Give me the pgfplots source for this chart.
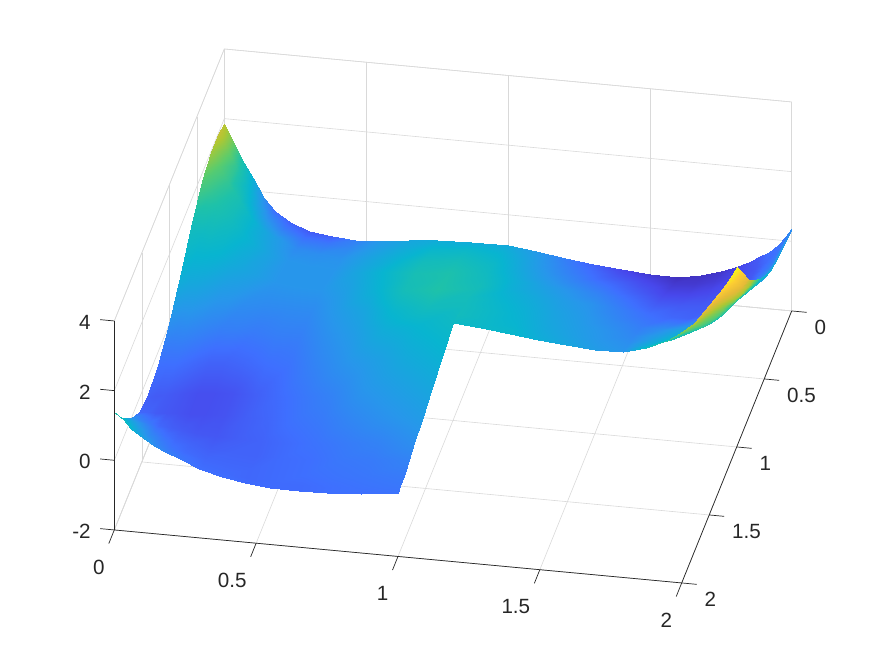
\documentclass[border=0pt]{standalone}
\usepackage{pgfplots}
\pgfplotsset{compat=1.18}
\usepackage{fontspec}
\setmainfont{Liberation Sans}
\begin{document}
\begin{tikzpicture}
\path[use as bounding box] (0,0) rectangle (437.5pt,328pt);
\begin{axis}[
  at={(112.15pt,233.85pt)}, anchor=origin,
  x={(141.85pt,13.25pt*-1)}, y={(27.5pt,68pt)}, z={(0pt,17.415pt)},
  y dir=reverse,
  xmin=0,xmax=2,ymin=0,ymax=2,zmin=-2,zmax=4,
  xtick={0,0.5,1,1.5,2}, ytick={0,0.5,1,1.5,2}, ztick={-2,0,2,4},
  tick pos=lower,
  grid=major, grid style={draw=black!15,line width=0.3pt},
  axis line style={draw=black!15,line width=0.3pt},
  tick style={draw=none},
  major tick length=7.5pt, tick align=outside,
  tick label style={font=\fontsize{10.3}{12}\selectfont,text=black!85},
  xticklabel style={anchor=north east,xshift=1.5pt,yshift=-4.4pt},
  yticklabel style={anchor=north west,xshift=0.5pt,yshift=-0.6pt},
  zticklabel style={anchor=east,xshift=-5.5pt,yshift=6.2pt},
  /pgf/number format/assume math mode=true,
  clip=false,
  colormap={parula}{rgb(0pt)=(.242,.150,.660); rgb(1pt)=(.280,.278,.922); rgb(2pt)=(.244,.436,.999); rgb(3pt)=(.154,.590,.922); rgb(4pt)=(.030,.708,.816); rgb(5pt)=(.120,.760,.660); rgb(6pt)=(.360,.800,.420); rgb(7pt)=(.680,.780,.200); rgb(8pt)=(.900,.730,.220); rgb(9pt)=(.990,.800,.200); rgb(10pt)=(.977,.984,.081)},
  point meta min=0, point meta max=1,
]
\addplot3[surf,shader=interp,point meta=explicit,mesh/ordering=y varies,mesh/rows=15,mesh/cols=15] table[x=x,y=y,z=z,meta=c] {
x y z c
0 0 1.84 .72
0 .1 2.0 .74
0 .25 2.03 .68
0 .4 1.78 .58
0 .6 1.22 .45
0 .8 .57 .38
0 1 0 .28
0 1.2 -.40 .2
0 1.4 -.52 .16
0 1.55 -.38 .18
0 1.7 .04 .3
0 1.8 .42 .38
0 1.9 .85 .45
0 1.96 1.18 .48
0 2 1.4 .5
.03 0 1.36 .62
.03 .1 1.53 .63
.03 .25 1.61 .59
.03 .4 1.44 .53
.03 .6 1.01 .43
.03 .8 .48 .36
.03 1 0 .27
.03 1.2 -.35 .2
.03 1.4 -.47 .15
.03 1.55 -.36 .17
.03 1.7 0 .26
.03 1.8 .33 .33
.03 1.9 .71 .39
.03 1.96 1.0 .43
.03 2 1.2 .45
.06 0 .92 .5
.06 .1 1.09 .53
.06 .25 1.21 .53
.06 .4 1.11 .49
.06 .6 .80 .42
.06 .8 .39 .35
.06 1 0 .27
.06 1.2 -.30 .2
.06 1.4 -.42 .15
.06 1.55 -.34 .15
.06 1.7 -.05 .23
.06 1.8 .23 .29
.06 1.9 .54 .34
.06 1.96 .79 .37
.06 2 .95 .4
.1 0 .37 .38
.1 .1 .56 .42
.1 .25 .73 .47
.1 .4 .72 .45
.1 .6 .56 .4
.1 .8 .29 .33
.1 1 0 .26
.1 1.2 -.25 .19
.1 1.4 -.36 .14
.1 1.55 -.31 .14
.1 1.7 -.09 .18
.1 1.8 .13 .23
.1 1.9 .38 .28
.1 1.96 .58 .31
.1 2 .72 .33
.14 0 -.17 .28
.14 .1 .03 .33
.14 .25 .26 .41
.14 .4 .35 .41
.14 .6 .33 .37
.14 .8 .19 .31
.14 1 0 .25
.14 1.2 -.20 .18
.14 1.4 -.31 .13
.14 1.55 -.29 .13
.14 1.7 -.13 .16
.14 1.8 .04 .2
.14 1.9 .25 .24
.14 1.96 .42 .26
.14 2 .53 .28
.18 0 -.52 .2
.18 .1 -.31 .27
.18 .25 -.05 .36
.18 .4 .09 .38
.18 .6 .17 .35
.18 .8 .12 .3
.18 1 0 .24
.18 1.2 -.16 .17
.18 1.4 -.27 .12
.18 1.55 -.28 .12
.18 1.7 -.16 .15
.18 1.8 -.03 .18
.18 1.9 .13 .21
.18 1.96 .28 .23
.18 2 .37 .25
.23 0 -.78 .17
.23 .1 -.57 .23
.23 .25 -.29 .32
.23 .4 -.11 .34
.23 .6 .04 .33
.23 .8 .07 .28
.23 1 0 .24
.23 1.2 -.13 .17
.23 1.4 -.24 .12
.23 1.55 -.26 .12
.23 1.7 -.20 .14
.23 1.8 -.11 .17
.23 1.9 .02 .19
.23 1.96 .13 .21
.23 2 .20 .22
.3 0 -1.0 .15
.3 .1 -.80 .21
.3 .25 -.52 .27
.3 .4 -.31 .3
.3 .6 -.10 .3
.3 .8 0 .27
.3 1 0 .23
.3 1.2 -.09 .18
.3 1.4 -.19 .13
.3 1.55 -.24 .13
.3 1.7 -.24 .14
.3 1.8 -.20 .16
.3 1.9 -.13 .18
.3 1.96 -.07 .19
.3 2 -.03 .2
.38 0 -1.09 .16
.38 .1 -.89 .22
.38 .25 -.62 .28
.38 .4 -.40 .3
.38 .6 -.16 .3
.38 .8 -.03 .27
.38 1 0 .24
.38 1.2 -.07 .2
.38 1.4 -.17 .16
.38 1.55 -.23 .16
.38 1.7 -.26 .16
.38 1.8 -.26 .17
.38 1.9 -.24 .18
.38 1.96 -.22 .19
.38 2 -.20 .2
.46 0 -1.13 .24
.46 .1 -.94 .26
.46 .25 -.67 .29
.46 .4 -.45 .3
.46 .6 -.2 .3
.46 .8 -.05 .27
.46 1 0 .24
.46 1.2 -.05 .21
.46 1.4 -.15 .19
.46 1.55 -.22 .18
.46 1.7 -.28 .17
.46 1.8 -.3 .17
.46 1.9 -.31 .18
.46 1.96 -.31 .18
.46 2 -.31 .19
.55 0 -1.09 .31
.55 .1 -.91 .32
.55 .25 -.64 .34
.55 .4 -.41 .35
.55 .6 -.15 .33
.55 .8 .02 .31
.55 1 .10 .28
.55 1.2 .03 .25
.55 1.4 -.08 .22
.55 1.55 -.16 .21
.55 1.7 -.25 .19
.55 1.8 -.3 .19
.55 1.9 -.34 .19
.55 1.96 -.36 .19
.55 2 -.38 .19
.65 0 -1.0 .35
.65 .1 -.86 .37
.65 .25 -.59 .39
.65 .4 -.36 .41
.65 .6 -.08 .39
.65 .8 .12 .35
.65 1 .24 .32
.65 1.2 .15 .29
.65 1.4 .02 .25
.65 1.55 -.08 .23
.65 1.7 -.19 .21
.65 1.8 -.26 .2
.65 1.9 -.33 .2
.65 1.96 -.38 .19
.65 2 -.40 .19
.75 0 -.92 .37
.75 .1 -.79 .41
.75 .25 -.53 .45
.75 .4 -.30 .47
.75 .6 0 .46
.75 .8 .24 .41
.75 1 .40 .37
.75 1.2 .27 .32
.75 1.4 .12 .29
.75 1.55 .01 .26
.75 1.7 -.11 .23
.75 1.8 -.2 .22
.75 1.9 -.3 .21
.75 1.96 -.36 .2
.75 2 -.38 .2
.87 0 -.87 .37
.87 .1 -.72 .42
.87 .25 -.46 .46
.87 .4 -.22 .49
.87 .6 .1 .5
.87 .8 .38 .45
.87 1 .61 .4
.87 1.2 .44 .36
.87 1.4 .27 .32
.87 1.55 .14 .29
.87 1.7 .01 .25
.87 1.8 -.08 .23
.87 1.9 -.19 .22
.87 1.96 -.26 .21
.87 2 -.31 .2
1 0 -.87 .36
1 .1 -.68 .39
1 .25 -.41 .42
1 .4 -.15 .44
1 .6 .2 .46
1 .8 .52 .45
1 1 .81 .43
1 1.2 .6 .39
1 1.4 .4 .35
1 1.55 .25 .32
1 1.7 .1 .28
1 1.8 0 .25
1 1.9 -.09 .23
1 1.96 -.14 .22
1 2 -.18 .21
};
\addplot3[surf,shader=interp,point meta=explicit,mesh/ordering=y varies,mesh/rows=10,mesh/cols=16] table[x=x,y=y,z=z,meta=c] {
x y z c
1 0 -.87 .36
1 .1 -.68 .39
1 .25 -.41 .42
1 .4 -.15 .44
1 .55 .11 .46
1 .7 .37 .45
1 .8 .52 .45
1 .9 .67 .45
1 .96 .75 .44
1 1 .81 .43
1.1 0 -.95 .31
1.1 .1 -.78 .33
1.1 .25 -.51 .35
1.1 .4 -.24 .38
1.1 .55 .03 .39
1.1 .7 .28 .41
1.1 .8 .44 .42
1.1 .9 .58 .42
1.1 .96 .67 .42
1.1 1 .72 .42
1.2 0 -1.08 .24
1.2 .1 -.89 .26
1.2 .25 -.61 .29
1.2 .4 -.33 .33
1.2 .55 -.05 .36
1.2 .7 .2 .38
1.2 .8 .36 .39
1.2 .9 .5 .4
1.2 .96 .59 .41
1.2 1 .63 .41
1.3 0 -1.18 .17
1.3 .1 -.98 .2
1.3 .25 -.68 .24
1.3 .4 -.36 .29
1.3 .55 -.08 .32
1.3 .7 .16 .34
1.3 .8 .31 .35
1.3 .9 .44 .36
1.3 .96 .51 .37
1.3 1 .54 .38
1.4 0 -1.26 .1
1.4 .1 -1.06 .14
1.4 .25 -.74 .2
1.4 .4 -.40 .25
1.4 .55 -.1 .29
1.4 .7 .12 .31
1.4 .8 .26 .32
1.4 .9 .38 .33
1.4 .96 .44 .34
1.4 1 .46 .35
1.5 0 -1.31 .06
1.5 .1 -1.11 .1
1.5 .25 -.80 .15
1.5 .4 -.48 .2
1.5 .55 -.18 .24
1.5 .7 .05 .27
1.5 .8 .19 .29
1.5 .9 .33 .3
1.5 .96 .39 .31
1.5 1 .40 .32
1.6 0 -1.32 .03
1.6 .1 -1.14 .06
1.6 .25 -.85 .1
1.6 .4 -.55 .15
1.6 .55 -.25 .2
1.6 .7 -.02 .24
1.6 .8 .13 .26
1.6 .9 .28 .28
1.6 .96 .37 .29
1.6 1 .41 .3
1.68 0 -1.22 .04
1.68 .1 -1.07 .06
1.68 .25 -.82 .1
1.68 .4 -.54 .15
1.68 .55 -.26 .18
1.68 .7 -.02 .28
1.68 .8 .14 .33
1.68 .9 .33 .38
1.68 .96 .49 .42
1.68 1 .6 .45
1.75 0 -1.05 .05
1.75 .1 -.93 .07
1.75 .25 -.73 .11
1.75 .4 -.5 .15
1.75 .55 -.25 .17
1.75 .7 0 .35
1.75 .8 .22 .4
1.75 .9 .5 .46
1.75 .96 .72 .51
1.75 1 .85 .55
1.8 0 -.9 .08
1.8 .1 -.81 .09
1.8 .25 -.62 .12
1.8 .4 -.41 .15
1.8 .55 -.16 .2
1.8 .7 .12 .4
1.8 .8 .38 .46
1.8 .9 .73 .52
1.8 .96 .97 .58
1.8 1 1.11 .63
1.85 0 -.70 .12
1.85 .1 -.64 .12
1.85 .25 -.49 .13
1.85 .4 -.28 .15
1.85 .55 -.02 .25
1.85 .7 .28 .45
1.85 .8 .59 .52
1.85 .9 1.0 .59
1.85 .96 1.27 .65
1.85 1 1.45 .72
1.89 0 -.52 .15
1.89 .1 -.46 .14
1.89 .25 -.33 .15
1.89 .4 -.12 .2
1.89 .55 .17 .35
1.89 .7 .53 .5
1.89 .8 .88 .58
1.89 .9 1.33 .66
1.89 .96 1.64 .73
1.89 1 1.85 .8
1.92 0 -.36 .2
1.92 .1 -.29 .18
1.92 .25 -.16 .2
1.92 .4 .12 .3
1.92 .55 .46 .48
1.92 .7 .84 .55
1.92 .8 1.2 .65
1.92 .9 1.68 .75
1.92 .96 2.0 .82
1.92 1 2.18 .88
1.95 0 -.14 .21
1.95 .1 -.08 .2
1.95 .25 .08 .22
1.95 .4 .30 .3
1.95 .55 .66 .42
1.95 .7 1.12 .68
1.95 .8 1.55 .76
1.95 .9 2.08 .85
1.95 .96 2.38 .9
1.95 1 2.52 .92
1.975 0 .1 .23
1.975 .1 .16 .22
1.975 .25 .28 .24
1.975 .4 .47 .31
1.975 .55 .85 .43
1.975 .7 1.36 .72
1.975 .8 1.78 .8
1.975 .9 2.34 .89
1.975 .96 2.66 .94
1.975 1 2.83 .96
2 0 .38 .28
2 .1 .43 .31
2 .25 .52 .35
2 .4 .70 .38
2 .55 1.08 .45
2 .7 1.62 .68
2 .8 2.05 .8
2 .9 2.62 .9
2 .96 2.95 .96
2 1 3.17 1
};
\draw[black!85,line width=0.35pt] (axis cs:0,2,-2)--(axis cs:2,2,-2)--(axis cs:2,0,-2);
\draw[black!85,line width=0.35pt] (axis cs:0,2,-2)--(axis cs:0,2,4);
\pgfplotsinvokeforeach{0,0.5,1,1.5,2}{
  \draw[black!85,line width=0.35pt] (axis cs:#1,2,-2)--(axis cs:#1,2.1,-2);
  \draw[black!85,line width=0.35pt] (axis cs:2,#1,-2)--(axis cs:2.053,#1,-2);
}
\pgfplotsinvokeforeach{-2,0,2,4}{
  \draw[black!85,line width=0.35pt] (axis cs:0,2,#1)--(axis cs:-0.05,2,#1);
}
\end{axis}
\end{tikzpicture}
\end{document}
